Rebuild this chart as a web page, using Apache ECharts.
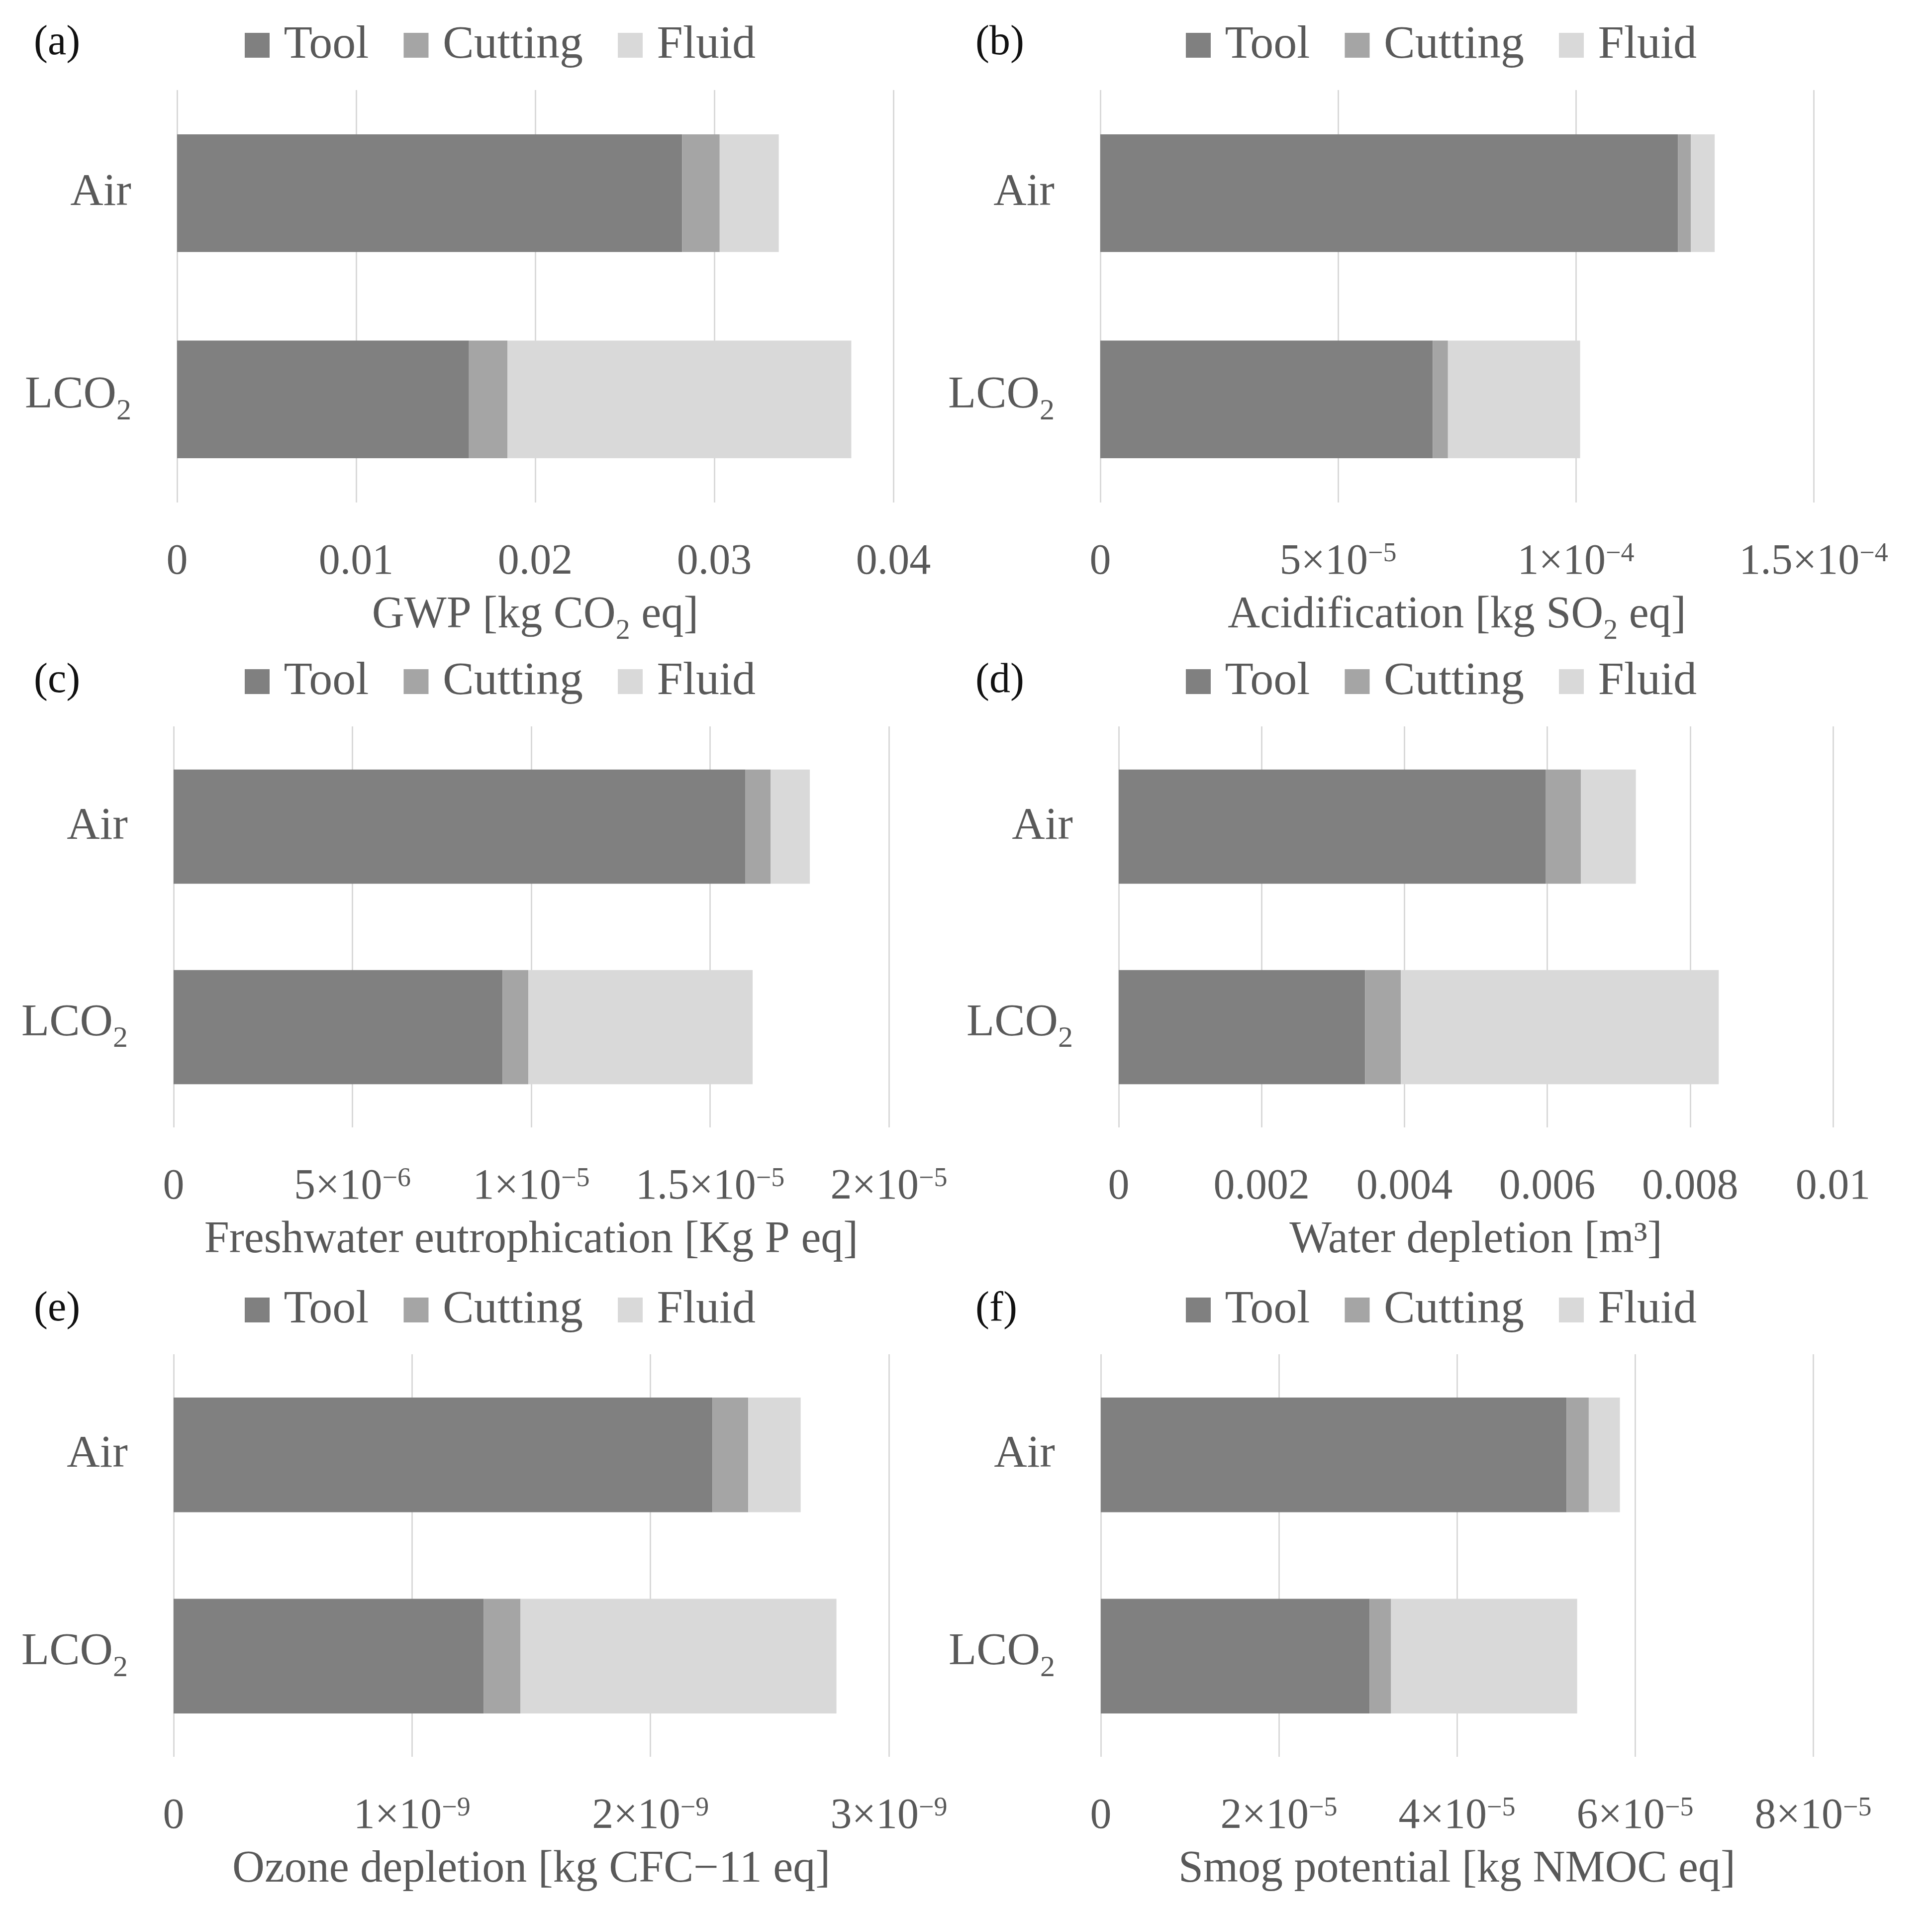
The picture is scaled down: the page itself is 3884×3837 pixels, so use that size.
<!DOCTYPE html>
<html>
<head>
<meta charset="utf-8">
<script src="https://cdn.jsdelivr.net/npm/echarts@6/dist/echarts.min.js"></script>
<style>
html,body{margin:0;padding:0;background:#fff;}
#chart{width:3884px;height:3837px;}
</style>
</head>
<body>
<div id="chart"></div>
<script>
// ---- data ----
const categories = ['Air', 'LCO₂'];
const seriesNames = ['Tool', 'Cutting', 'Fluid'];

const gwpTool = [0.0282, 0.0163];
const gwpCutting = [0.0021, 0.00215];
const gwpFluid = [0.0033, 0.0192];

const acidTool = [1.215e-4, 6.99e-5];
const acidCutting = [2.7e-6, 3.2e-6];
const acidFluid = [5.0e-6, 2.78e-5];

const eutroTool = [1.599e-5, 9.2e-6];
const eutroCutting = [7.0e-7, 7.2e-7];
const eutroFluid = [1.1e-6, 6.27e-6];

const waterTool = [0.00598, 0.00345];
const waterCutting = [0.00049, 0.0005];
const waterFluid = [0.00077, 0.00445];

const ozoneTool = [2.26e-9, 1.30e-9];
const ozoneCutting = [1.5e-10, 1.55e-10];
const ozoneFluid = [2.2e-10, 1.325e-9];

const smogTool = [5.23e-5, 3.02e-5];
const smogCutting = [2.5e-6, 2.4e-6];
const smogFluid = [3.5e-6, 2.09e-5];

// tick labels: "^" marks the start of a superscript exponent
const gwpTicks = ['0', '0.01', '0.02', '0.03', '0.04'];
const acidTicks = ['0', '5×10^−5', '1×10^−4', '1.5×10^−4'];
const eutroTicks = ['0', '5×10^−6', '1×10^−5', '1.5×10^−5', '2×10^−5'];
const waterTicks = ['0', '0.002', '0.004', '0.006', '0.008', '0.01'];
const ozoneTicks = ['0', '1×10^−9', '2×10^−9', '3×10^−9'];
const smogTicks = ['0', '2×10^−5', '4×10^−5', '6×10^−5', '8×10^−5'];

const axisNames = [
  'GWP [kg CO₂ eq]',
  'Acidification [kg SO₂ eq]',
  'Freshwater eutrophication [Kg P eq]',
  'Water depletion [m³]',
  'Ozone depletion [kg CFC−11 eq]',
  'Smog potential [kg NMOC eq]'
];
const panelLabels = ['(a)', '(b)', '(c)', '(d)', '(e)', '(f)'];

// ---- layout / style ----
const FONT = '"Liberation Serif", "DejaVu Serif", serif';
const TXT = '#595959';
const colors = ['#808080', '#a5a5a5', '#d9d9d9'];

const panels = [
  {tool: gwpTool, cut: gwpCutting, fluid: gwpFluid, ticks: gwpTicks, interval: 0.01,
   grid: {left: 356, top: 181, width: 1440, height: 829}, legend: [492, 44], label: [68, 45]},
  {tool: acidTool, cut: acidCutting, fluid: acidFluid, ticks: acidTicks, interval: 5e-5,
   grid: {left: 2212, top: 181, width: 1434, height: 829}, legend: [2384, 44], label: [1961, 45]},
  {tool: eutroTool, cut: eutroCutting, fluid: eutroFluid, ticks: eutroTicks, interval: 5e-6,
   grid: {left: 349, top: 1460, width: 1438, height: 806}, legend: [492, 1323], label: [68, 1327]},
  {tool: waterTool, cut: waterCutting, fluid: waterFluid, ticks: waterTicks, interval: 0.002,
   grid: {left: 2249, top: 1460, width: 1436, height: 806}, legend: [2384, 1323], label: [1961, 1327]},
  {tool: ozoneTool, cut: ozoneCutting, fluid: ozoneFluid, ticks: ozoneTicks, interval: 1e-9,
   grid: {left: 349, top: 2722, width: 1438, height: 809}, legend: [492, 2586], label: [68, 2590]},
  {tool: smogTool, cut: smogCutting, fluid: smogFluid, ticks: smogTicks, interval: 2e-5,
   grid: {left: 2213, top: 2722, width: 1432, height: 809}, legend: [2384, 2586], label: [1961, 2590]}
];

// convert "a^b" into rich superscript, and "₂" into rich subscript
function supRich(str) {
  const parts = str.split('^');
  return '{n|' + parts[0] + '}' + (parts.length > 1 ? '{s|' + parts[1] + '}' : '');
}
function subRich(str) {
  return str.split('₂').map(t => '{n|' + t + '}').join('{b|2}');
}

const grid = [], xAxis = [], yAxis = [], series = [], legend = [], graphic = [];

panels.forEach((p, i) => {
  grid.push(Object.assign({containLabel: false}, p.grid));
  const ticks = p.ticks;
  const interval = p.interval;
  xAxis.push({
    type: 'value', gridIndex: i, min: 0, max: interval * (ticks.length - 1), interval: interval,
    axisLine: {show: false}, axisTick: {show: false},
    splitLine: {show: true, lineStyle: {color: '#d9d9d9', width: 3}},
    axisLabel: {
      color: TXT, fontFamily: FONT, fontSize: 86, margin: 77,
      formatter: (v) => supRich(ticks[Math.round(v / interval)]),
      rich: {
        n: {fontSize: 86, fontFamily: FONT, color: TXT, lineHeight: 86},
        s: {fontSize: 54, fontFamily: FONT, color: TXT, verticalAlign: 'top', lineHeight: 54}
      }
    },
    name: subRich(axisNames[i]), nameLocation: 'middle', nameGap: 182,
    nameTextStyle: {
      color: TXT, fontFamily: FONT, fontSize: 90,
      rich: {
        n: {fontSize: 90, fontFamily: FONT, color: TXT, lineHeight: 90, verticalAlign: 'top'},
        b: {fontSize: 58, fontFamily: FONT, color: TXT, verticalAlign: 'bottom', lineHeight: 106}
      }
    }
  });
  yAxis.push({
    type: 'category', gridIndex: i, data: categories, inverse: true,
    axisLine: {show: false}, axisTick: {show: false},
    axisLabel: {
      color: TXT, fontFamily: FONT, fontSize: 92, margin: 92,
      formatter: (v) => subRich(v),
      rich: {
        n: {fontSize: 92, fontFamily: FONT, color: TXT, lineHeight: 92, verticalAlign: 'top'},
        b: {fontSize: 60, fontFamily: FONT, color: TXT, verticalAlign: 'bottom', lineHeight: 108}
      }
    }
  });
  const vals = [p.tool, p.cut, p.fluid];
  seriesNames.forEach((n, k) => {
    series.push({
      type: 'bar', name: n, stack: 'total' + i, xAxisIndex: i, yAxisIndex: i,
      data: vals[k], barWidth: '57%', itemStyle: {color: colors[k]},
      silent: true, animation: false
    });
  });
  legend.push({
    left: p.legend[0], top: p.legend[1], padding: 0, orient: 'horizontal',
    data: seriesNames, icon: 'rect', itemWidth: 50, itemHeight: 50, itemGap: 70,
    formatter: (n) => ' ' + n,
    textStyle: {color: TXT, fontFamily: FONT, fontSize: 94}
  });
  graphic.push({
    type: 'text', left: p.label[0], top: p.label[1],
    style: {text: panelLabels[i], fill: '#111', font: '84px ' + FONT}
  });
});

const chart = echarts.init(document.getElementById('chart'), null, {renderer: 'canvas'});
chart.setOption({
  backgroundColor: '#fff',
  animation: false,
  grid, xAxis, yAxis, series, legend, graphic
});
</script>
</body>
</html>
